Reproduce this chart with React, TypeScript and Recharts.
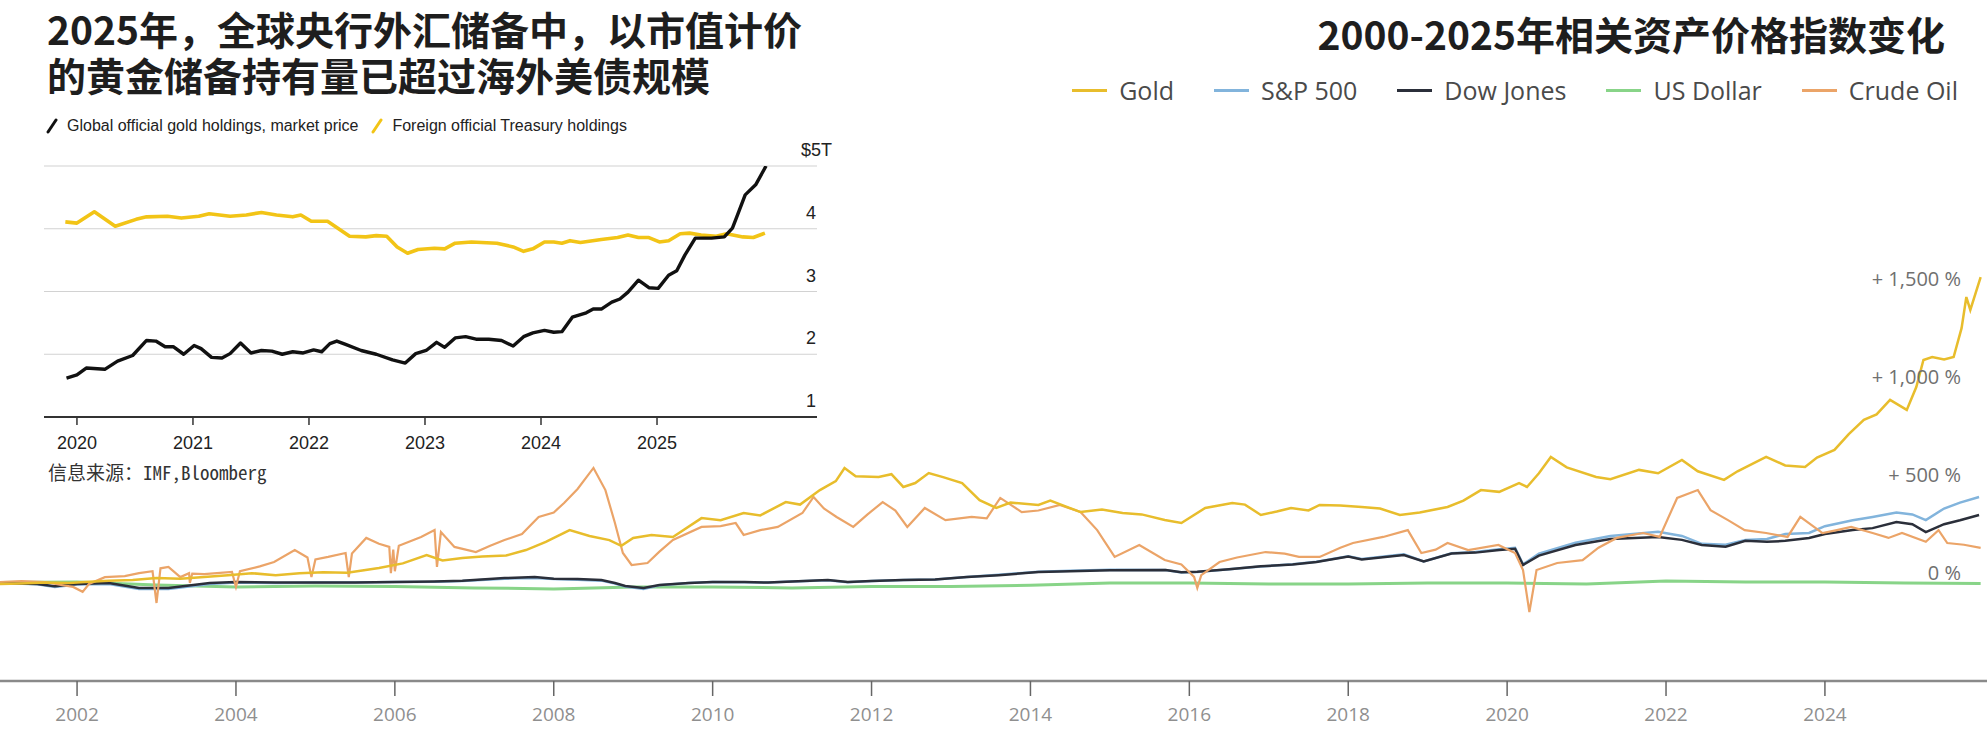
import { LineChart, Line, XAxis, YAxis, CartesianGrid } from 'recharts'

// ---------------------------------------------------------------------------
// Main chart: price index change since 2000, in %
// ---------------------------------------------------------------------------

const yearTicks = [2002, 2004, 2006, 2008, 2010, 2012, 2014, 2016, 2018, 2020, 2022, 2024]
const pctTicks = [0, 500, 1000, 1500]

const goldT = [
  2001.03, 2001.3, 2001.6, 2001.9, 2002.1, 2002.4, 2002.7, 2003.0, 2003.3, 2003.6, 2003.9, 2004.2, 2004.5, 2004.8,
  2005.1, 2005.4, 2005.8, 2006.1, 2006.4, 2006.6, 2006.85, 2007.1, 2007.4, 2007.65, 2007.9, 2008.2, 2008.45, 2008.7,
  2008.85, 2009.0, 2009.23, 2009.5, 2009.86, 2010.1, 2010.39, 2010.6, 2010.92, 2011.1, 2011.35, 2011.55, 2011.66,
  2011.8, 2012.09, 2012.25, 2012.4, 2012.55, 2012.72, 2012.9, 2013.14, 2013.36, 2013.57, 2013.75, 2014.1, 2014.25,
  2014.45, 2014.63, 2014.9, 2015.16, 2015.4, 2015.69, 2015.9, 2016.2, 2016.54, 2016.7, 2016.9, 2017.1, 2017.28,
  2017.5, 2017.64, 2017.9, 2018.17, 2018.4, 2018.65, 2018.9, 2019.25, 2019.45, 2019.67, 2019.9, 2020.15, 2020.25,
  2020.4, 2020.55, 2020.75, 2021.12, 2021.3, 2021.66, 2021.9, 2022.2, 2022.4, 2022.73, 2022.9, 2023.26, 2023.5,
  2023.75, 2023.9, 2024.12, 2024.3, 2024.49, 2024.65, 2024.82, 2025.03, 2025.15, 2025.24, 2025.35, 2025.5, 2025.62,
  2025.72, 2025.78, 2025.83, 2025.96,
]
const goldPct = [
  -5, -2, 2, 0, 5, 12, 15, 25, 22, 30, 40, 50, 40, 50,
  55, 52, 77, 100, 143, 115, 127, 135, 140, 168, 210, 270, 240, 219,
  190, 230, 245, 235, 331, 320, 357, 345, 413, 400, 474, 520, 587,
  545, 541, 555, 490, 510, 561, 540, 510, 423, 383, 410, 398, 420,
  390, 362, 375, 357, 350, 321, 306, 383, 408, 400, 347, 365, 383,
  370, 398, 395, 388, 380, 347, 360, 388, 420, 474, 465, 510, 490,
  560, 643, 590, 541, 530, 577, 560, 628, 570, 526, 570, 643, 600,
  592, 640, 679, 760, 832, 860, 934, 883, 1000, 1138, 1153, 1140, 1153,
  1300, 1459, 1393, 1561,
]

const oilT = [
  2001.03, 2001.3, 2001.6, 2001.8, 2001.95, 2002.07, 2002.15, 2002.35, 2002.6, 2002.78, 2002.95, 2003.0, 2003.05,
  2003.15, 2003.3, 2003.41, 2003.42, 2003.45, 2003.6, 2003.95, 2004.0, 2004.05, 2004.3, 2004.48, 2004.74, 2004.9,
  2004.95, 2005.0, 2005.16, 2005.38, 2005.42, 2005.46, 2005.64, 2005.8, 2005.93, 2005.95, 2005.98, 2006.0, 2006.05,
  2006.33, 2006.5, 2006.53, 2006.58, 2006.75, 2007.02, 2007.2, 2007.38, 2007.6, 2007.81, 2008.0, 2008.13, 2008.3,
  2008.5, 2008.65, 2008.77, 2008.87, 2008.98, 2009.18, 2009.33, 2009.5, 2009.86, 2010.1, 2010.29, 2010.39, 2010.6,
  2010.82, 2011.13, 2011.27, 2011.4, 2011.56, 2011.77, 2011.95, 2012.14, 2012.3, 2012.45, 2012.67, 2012.93, 2013.26,
  2013.45, 2013.62, 2013.89, 2014.1, 2014.37, 2014.63, 2014.84, 2015.06, 2015.37, 2015.69, 2015.9, 2016.06, 2016.1,
  2016.15, 2016.38, 2016.6, 2016.96, 2017.2, 2017.38, 2017.64, 2017.9, 2018.06, 2018.44, 2018.75, 2018.92, 2019.1,
  2019.25, 2019.51, 2019.89, 2020.1, 2020.2, 2020.28, 2020.37, 2020.63, 2020.95, 2021.15, 2021.38, 2021.71, 2021.92,
  2022.14, 2022.4, 2022.56, 2022.78, 2022.99, 2023.26, 2023.53, 2023.69, 2023.97, 2024.15, 2024.33, 2024.6, 2024.8,
  2024.97, 2025.27, 2025.43, 2025.54, 2025.75, 2025.96,
]
const oilPct = [
  5, 10, 5, -10, -20, -45, -5, 30, 35, 50, 60, -102, 75,
  82, 30, 50, 0, 48, 45, 56, -20, 60, 85, 107, 168, 130,
  30, 120, 133, 153, 30, 150, 230, 200, 184, 50, 170, 60, 190,
  235, 270, 82, 260, 184, 158, 190, 219, 250, 337, 360, 408, 480,
  587, 474, 306, 153, 92, 102, 160, 220, 286, 290, 306, 245, 270,
  286, 357, 439, 380, 337, 286, 350, 413, 370, 286, 383, 321, 337,
  330, 434, 362, 370, 398, 362, 270, 133, 194, 117, 95, 31, -25,
  40, 107, 130, 158, 150, 133, 133, 180, 204, 235, 270, 153, 170,
  204, 168, 194, 153, 66, -148, 66, 102, 117, 180, 230, 255, 235,
  434, 474, 372, 321, 270, 255, 235, 337, 255, 270, 286, 255, 230,
  255, 210, 270, 204, 195, 179,
]

const dowT = [
  2001.03, 2001.5, 2001.72, 2002.0, 2002.4, 2002.78, 2003.15, 2003.67, 2004.0, 2004.5, 2005.0, 2005.5, 2006.0,
  2006.5, 2006.85, 2007.38, 2007.76, 2008.0, 2008.3, 2008.6, 2008.77, 2008.9, 2009.13, 2009.33, 2009.7, 2010.0,
  2010.4, 2010.7, 2011.0, 2011.45, 2011.7, 2012.0, 2012.4, 2012.8, 2013.2, 2013.6, 2014.1, 2014.5, 2015.0, 2015.7,
  2015.9, 2016.1, 2016.5, 2016.9, 2017.3, 2017.6, 2018.0, 2018.17, 2018.7, 2018.95, 2019.3, 2019.6, 2019.9, 2020.1,
  2020.2, 2020.4, 2020.86, 2021.3, 2021.9, 2022.2, 2022.45, 2022.75, 2023.0, 2023.27, 2023.5, 2023.8, 2024.0,
  2024.35, 2024.6, 2024.9, 2025.1, 2025.27, 2025.5, 2025.7, 2025.94,
]
const dowPct = [
  0, -5, -17, -5, 0, -25, -25, 0, 5, 2, 3, 2, 5,
  8, 12, 25, 30, 22, 20, 15, 0, -15, -25, -10, 0, 5,
  5, 2, 8, 15, 5, 10, 15, 18, 30, 40, 56, 60, 65, 66,
  55, 58, 70, 85, 95, 107, 135, 120, 143, 110, 150, 155, 168, 175,
  92, 140, 194, 225, 235, 220, 194, 185, 215, 210, 215, 230, 250,
  270, 280, 311, 300, 260, 300, 320, 347,
]
const spxPct = [
  0, -6, -20, -8, -5, -30, -30, -5, 3, 0, 2, 2, 5,
  6, 10, 22, 25, 20, 17, 12, -3, -18, -30, -12, 0, 5,
  4, 2, 8, 14, 4, 10, 15, 18, 30, 42, 57, 63, 67, 66,
  54, 56, 70, 84, 96, 108, 136, 122, 146, 110, 152, 158, 172, 180,
  95, 150, 205, 240, 262, 240, 200, 195, 220, 225, 250, 255, 290,
  320, 337, 360, 350, 321, 380, 410, 439,
]

const usdT = [
  2001.03, 2002.0, 2003.0, 2004.0, 2005.0, 2006.0, 2007.0, 2008.0, 2009.0, 2010.0, 2011.0, 2012.0, 2013.0,
  2014.0, 2015.0, 2016.0, 2017.0, 2018.0, 2019.0, 2020.0, 2021.0, 2022.0, 2023.0, 2024.0, 2025.0, 2025.96,
]
const usdPct = [
  3, 5, -10, -20, -15, -18, -25, -30, -20, -20, -25, -18, -18,
  -12, 0, 0, -5, -5, 0, 0, -5, 10, 5, 5, 0, -2,
]

// ---------------------------------------------------------------------------
// Inset: official holdings, trillions of US dollars
// ---------------------------------------------------------------------------

const insetYears = [2020, 2021, 2022, 2023, 2024, 2025]
const insetValueTicks = [1, 2, 3, 4, 5]

const goldHoldT = [
  2019.91, 2020.0, 2020.08, 2020.24, 2020.35, 2020.48, 2020.6, 2020.68, 2020.76, 2020.83, 2020.92, 2021.01, 2021.07,
  2021.16, 2021.25, 2021.32, 2021.41, 2021.5, 2021.59, 2021.68, 2021.77, 2021.86, 2021.95, 2022.04, 2022.11, 2022.18,
  2022.24, 2022.31, 2022.45, 2022.58, 2022.72, 2022.83, 2022.92, 2023.01, 2023.1, 2023.17, 2023.26, 2023.35, 2023.44,
  2023.55, 2023.66, 2023.76, 2023.85, 2023.93, 2024.03, 2024.11, 2024.18, 2024.27, 2024.39, 2024.45, 2024.52, 2024.61,
  2024.68, 2024.75, 2024.84, 2024.93, 2025.01, 2025.1, 2025.17, 2025.24, 2025.33, 2025.47, 2025.58, 2025.65, 2025.69,
  2025.76, 2025.85, 2025.94,
]
const goldHoldUsd = [
  1.62, 1.67, 1.78, 1.76, 1.89, 1.98, 2.22, 2.21, 2.12, 2.12, 2.0, 2.14, 2.09,
  1.95, 1.94, 2.01, 2.18, 2.02, 2.06, 2.05, 2.0, 2.04, 2.02, 2.07, 2.04, 2.17,
  2.21, 2.16, 2.06, 2.0, 1.91, 1.86, 2.01, 2.06, 2.19, 2.11, 2.26, 2.28, 2.24,
  2.24, 2.22, 2.13, 2.28, 2.34, 2.38, 2.35, 2.36, 2.59, 2.66, 2.72, 2.72, 2.83,
  2.88, 2.99, 3.18, 3.06, 3.05, 3.26, 3.33, 3.58, 3.85, 3.85, 3.87, 4.01, 4.2,
  4.54, 4.7, 5.0,
]

const treasuryT = [
  2019.9, 2020.0, 2020.15, 2020.33, 2020.51, 2020.6, 2020.78, 2020.9, 2021.05, 2021.14, 2021.32, 2021.46, 2021.59,
  2021.72, 2021.86, 2021.93, 2022.02, 2022.16, 2022.35, 2022.49, 2022.58, 2022.67, 2022.76, 2022.85, 2022.94, 2023.08,
  2023.17, 2023.26, 2023.4, 2023.62, 2023.76, 2023.85, 2023.93, 2024.03, 2024.11, 2024.18, 2024.25, 2024.34, 2024.52,
  2024.66, 2024.75, 2024.84, 2024.93, 2025.02, 2025.1, 2025.2, 2025.28, 2025.38, 2025.51, 2025.6, 2025.74, 2025.83,
  2025.93,
]
const treasuryUsd = [
  4.11, 4.09, 4.27, 4.04, 4.15, 4.19, 4.2, 4.17, 4.2, 4.24, 4.2, 4.22, 4.26,
  4.22, 4.19, 4.22, 4.12, 4.12, 3.88, 3.87, 3.89, 3.88, 3.71, 3.61, 3.67, 3.69,
  3.68, 3.77, 3.79, 3.77, 3.71, 3.64, 3.68, 3.79, 3.79, 3.77, 3.81, 3.78, 3.83,
  3.86, 3.9, 3.86, 3.86, 3.79, 3.81, 3.92, 3.93, 3.9, 3.88, 3.92, 3.87, 3.86,
  3.93,
]

const toPoints = (t: number[], v: number[]) => t.map((x, i) => ({ t: x, v: v[i] }))

const COLORS = {
  gold: '#e8bd2c',
  spx: '#82b4dc',
  dow: '#2b2f3a',
  usd: '#88d488',
  oil: '#eba468',
  insetGold: '#111111',
  insetTreasury: '#f2c416',
}

const legendItems = [
  { name: 'Gold', color: COLORS.gold },
  { name: 'S&P 500', color: COLORS.spx },
  { name: 'Dow Jones', color: COLORS.dow },
  { name: 'US Dollar', color: COLORS.usd },
  { name: 'Crude Oil', color: COLORS.oil },
]

const W = 1988
const H = 737
const INSET_W = 860
const INSET_H = 330

const CJK = "'Noto Sans CJK SC', 'Noto Sans', sans-serif"
const SANS = "'Open Sans', 'Noto Sans', sans-serif"
const ARIAL = "'Liberation Sans', Arial, sans-serif"

// value labels sit just above their (invisible) grid level, right-aligned
function PctTick(props: any) {
  const { y, payload } = props
  const v = payload.value as number
  const label = v === 0 ? '0 %' : `+ ${v.toLocaleString('en-US')} %`
  return (
    <text x={W - 27} y={y - 11} textAnchor="end" dominantBaseline="central"
      fill="#707070" fontSize={20} fontFamily={SANS}>
      {label}
    </text>
  )
}

function InsetValueTick(props: any) {
  const { y, payload } = props
  const v = payload.value as number
  const isTop = v === 5
  return (
    <text x={isTop ? INSET_W - 28 : INSET_W - 44} y={y - 16} textAnchor="end" dominantBaseline="central"
      fill="#222" fontSize={18} fontFamily={ARIAL}>
      {isTop ? '$5T' : String(v)}
    </text>
  )
}

function Slash({ color }: { color: string }) {
  return (
    <svg width={14} height={16} style={{ marginRight: 8 }}>
      <line x1={3} y1={14} x2={11} y2={2} stroke={color} strokeWidth={3} strokeLinecap="round" />
    </svg>
  )
}

export default function App() {
  const goldData = toPoints(goldT, goldPct)
  const oilData = toPoints(oilT, oilPct)
  const dowData = toPoints(dowT, dowPct)
  const spxData = toPoints(dowT, spxPct)
  const usdData = toPoints(usdT, usdPct)
  const goldHoldData = toPoints(goldHoldT, goldHoldUsd)
  const treasuryData = toPoints(treasuryT, treasuryUsd)

  return (
    <div style={{ position: 'absolute', left: 0, top: 0, width: W, height: H, background: '#fff', overflow: 'hidden' }}>
      {/* main index chart */}
      <div style={{ position: 'absolute', left: 0, top: 0 }}>
        <LineChart width={W} height={H} margin={{ top: 191, right: 0, bottom: 0, left: 0 }}>
          <XAxis
            type="number"
            dataKey="t"
            domain={[2001.03, 2026.04]}
            ticks={yearTicks}
            allowDataOverflow
            height={56}
            axisLine={{ stroke: '#8a8a8a', strokeWidth: 2.5 }}
            tickLine={{ stroke: '#666', strokeWidth: 1.5 }}
            tickSize={15}
            tickMargin={12}
            tick={{ fill: '#8f8f8f', fontSize: 19, fontFamily: SANS }}
          />
          <YAxis
            orientation="right"
            width={1}
            domain={[-500, 2000]}
            ticks={pctTicks}
            interval={0}
            allowDataOverflow
            axisLine={false}
            tickLine={false}
            tick={<PctTick />}
          />
          <Line data={usdData} dataKey="v" type="linear" stroke={COLORS.usd} strokeWidth={3} dot={false} isAnimationActive={false} />
          <Line data={spxData} dataKey="v" type="linear" stroke={COLORS.spx} strokeWidth={2.5} dot={false} isAnimationActive={false} />
          <Line data={dowData} dataKey="v" type="linear" stroke={COLORS.dow} strokeWidth={2.5} dot={false} isAnimationActive={false} />
          <Line data={oilData} dataKey="v" type="linear" stroke={COLORS.oil} strokeWidth={2.2} dot={false} isAnimationActive={false} />
          <Line data={goldData} dataKey="v" type="linear" stroke={COLORS.gold} strokeWidth={2.5} dot={false} isAnimationActive={false} />
        </LineChart>
      </div>

      {/* main chart title and legend */}
      <div style={{
        position: 'absolute', right: 43, top: 10, fontFamily: CJK, fontWeight: 700,
        fontSize: 39, lineHeight: '46px', color: '#1e1e1e', whiteSpace: 'nowrap',
      }}>
        2000-2025年相关资产价格指数变化
      </div>
      <div style={{
        position: 'absolute', right: 30, top: 73, display: 'flex', alignItems: 'center', gap: 40,
        fontFamily: SANS, fontSize: 25, color: '#4a4a4a', whiteSpace: 'nowrap',
      }}>
        {legendItems.map((item) => (
          <div key={item.name} style={{ display: 'flex', alignItems: 'center', height: 34 }}>
            <span style={{ display: 'inline-block', width: 35, height: 3, background: item.color, marginRight: 12 }} />
            {item.name}
          </div>
        ))}
      </div>

      {/* inset: official gold vs Treasury holdings */}
      <div style={{
        position: 'absolute', left: 47, top: 5, fontFamily: CJK, fontWeight: 700,
        fontSize: 39, lineHeight: '46px', color: '#1e1e1e', whiteSpace: 'nowrap',
      }}>
        <div>2025年，全球央行外汇储备中，以市值计价</div>
        <div>的黄金储备持有量已超过海外美债规模</div>
      </div>
      <div style={{
        position: 'absolute', left: 45, top: 117, display: 'flex', alignItems: 'center',
        fontFamily: ARIAL, fontSize: 16, color: '#222', whiteSpace: 'nowrap',
      }}>
        <Slash color={COLORS.insetGold} />
        <span style={{ marginRight: 12 }}>Global official gold holdings, market price</span>
        <Slash color={COLORS.insetTreasury} />
        <span>Foreign official Treasury holdings</span>
      </div>
      <div style={{ position: 'absolute', left: 0, top: 140 }}>
        <LineChart width={INSET_W} height={INSET_H} margin={{ top: 26, right: 42, bottom: 0, left: 44 }}>
          <CartesianGrid vertical={false} stroke="#d2d2d2" strokeWidth={1.2} />
          <XAxis
            type="number"
            dataKey="t"
            domain={[2019.716, 2026.379]}
            ticks={insetYears}
            allowDataOverflow
            height={53}
            axisLine={{ stroke: '#333', strokeWidth: 2 }}
            tickLine={{ stroke: '#333', strokeWidth: 1.5 }}
            tickSize={8}
            tickMargin={11}
            tick={{ fill: '#222', fontSize: 18, fontFamily: ARIAL }}
          />
          <YAxis
            orientation="right"
            width={1}
            domain={[1, 5]}
            ticks={insetValueTicks}
            interval={0}
            allowDataOverflow
            axisLine={false}
            tickLine={false}
            tick={<InsetValueTick />}
          />
          <Line data={treasuryData} dataKey="v" type="linear" stroke={COLORS.insetTreasury} strokeWidth={3.6}
            dot={false} strokeLinejoin="round" isAnimationActive={false} />
          <Line data={goldHoldData} dataKey="v" type="linear" stroke={COLORS.insetGold} strokeWidth={3.4}
            dot={false} strokeLinejoin="round" isAnimationActive={false} />
        </LineChart>
      </div>
      <div style={{
        position: 'absolute', left: 48, top: 460, fontFamily: "'Noto Sans Mono CJK SC', 'DejaVu Sans Mono', monospace",
        fontSize: 19, lineHeight: '24px', color: '#333', whiteSpace: 'nowrap',
      }}>
        信息来源：IMF,Bloomberg
      </div>
    </div>
  )
}
